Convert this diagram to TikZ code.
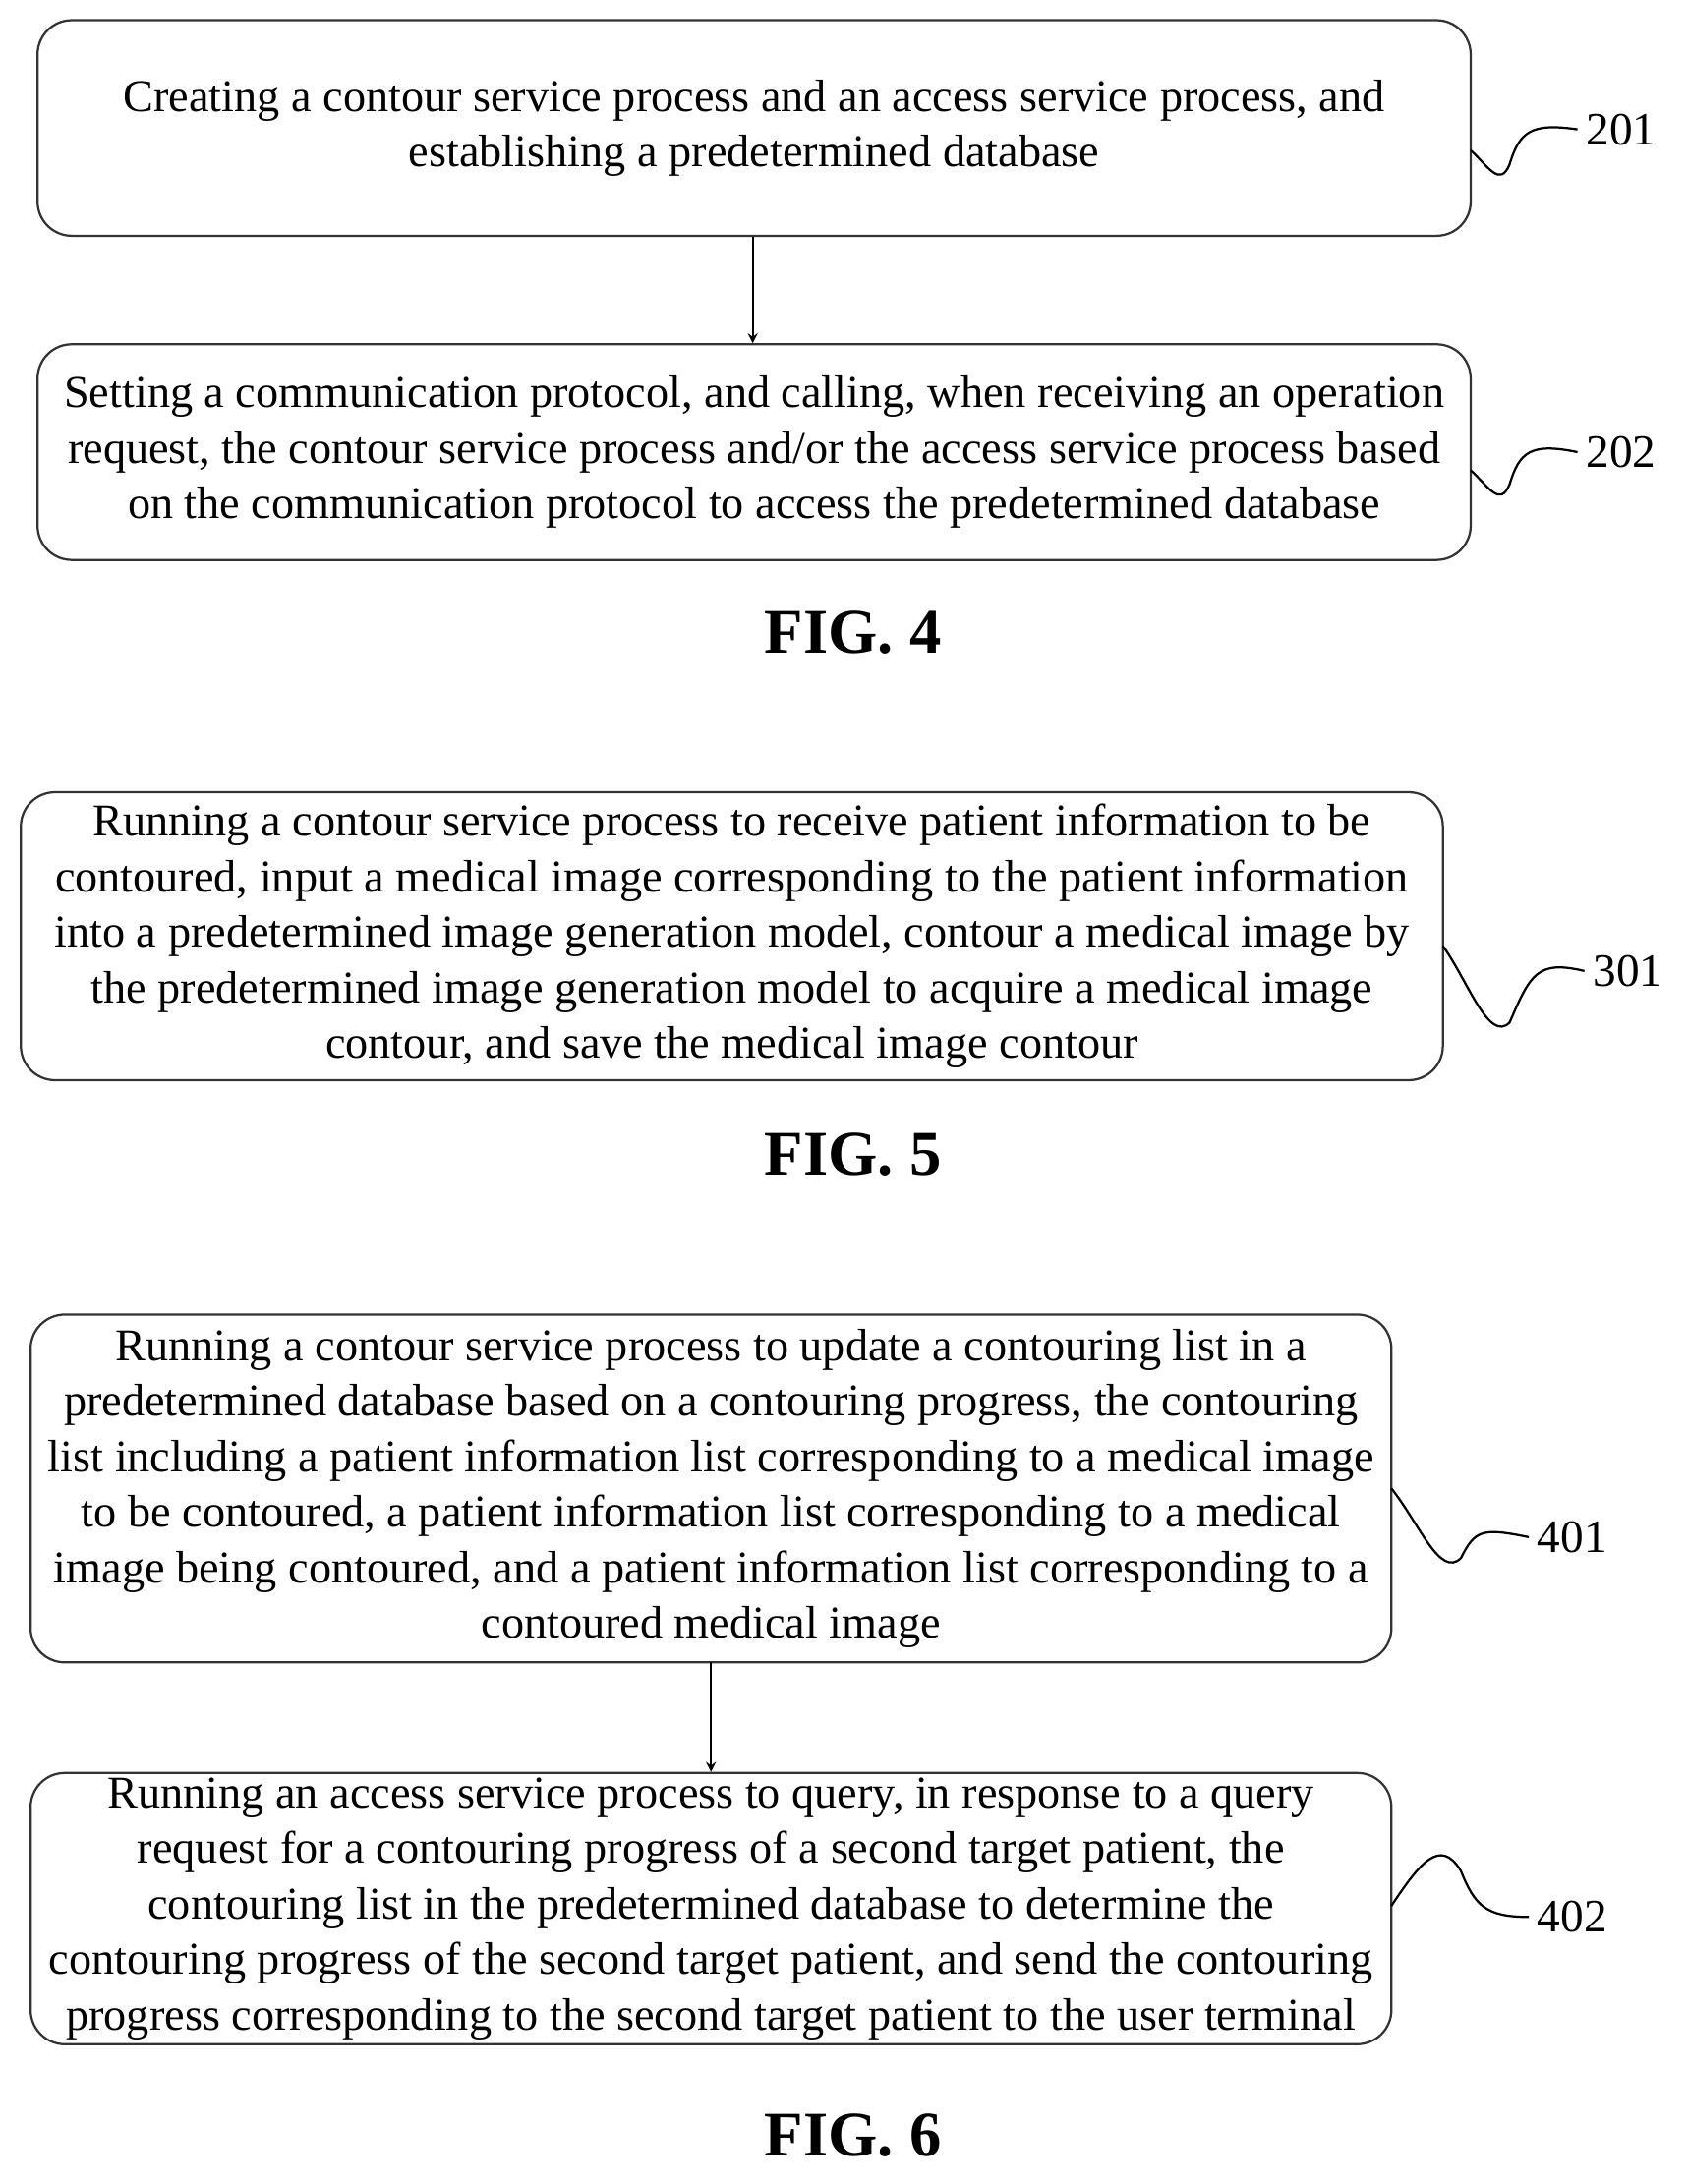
\documentclass[tikz,border=0pt]{standalone}
\usepackage{fontspec}
\setmainfont{Liberation Serif}
\begin{document}
\begin{tikzpicture}[x=0.02cm,y=-0.02cm,
  box/.style={draw=black!80,line width=0.9pt,rounded corners=14pt,inner sep=0pt,align=center,font=\fontsize{18.6}{22.7}\selectfont},
  lab/.style={font=\fontsize{19}{22}\selectfont},
  fig/.style={font=\fontsize{26}{30}\bfseries\selectfont},
  arr/.style={->,>=stealth,line width=0.8pt},
  sq/.style={line width=0.9pt}]
\useasboundingbox (0,0) rectangle (1213,1570);
\node[box,minimum width=1030*0.02cm,minimum height=155*0.02cm] (b201) at (542,92) {Creating a contour service process and an access service process, and\\establishing a predetermined database};
\node[box,minimum width=1030*0.02cm,minimum height=155*0.02cm] (b202) at (542,325) {Setting a communication protocol, and calling, when receiving an operation\\request, the contour service process and/or the access service process based\\on the communication protocol to access the predetermined database};
\draw[arr] (b201.south -| 541,0) -- (b202.north -| 541,0);
\node[fig] (f4) at (613,455) {FIG. 4};
\node[box,minimum width=1022*0.02cm,minimum height=207*0.02cm] (b301) at (526,673) {Running a contour service process to receive patient information to be\\contoured, input a medical image corresponding to the patient information\\into a predetermined image generation model, contour a medical image by\\the predetermined image generation model to acquire a medical image\\contour, and save the medical image contour};
\node[fig] (f5) at (613,830) {FIG. 5};
\node[box,minimum width=978*0.02cm,minimum height=250*0.02cm] (b401) at (511,1070) {Running a contour service process to update a contouring list in a\\predetermined database based on a contouring progress, the contouring\\list including a patient information list corresponding to a medical image\\to be contoured, a patient information list corresponding to a medical\\image being contoured, and a patient information list corresponding to a\\contoured medical image};
\node[box,minimum width=978*0.02cm,minimum height=195*0.02cm] (b402) at (511,1372) {Running an access service process to query, in response to a query\\request for a contouring progress of a second target patient, the\\contouring list in the predetermined database to determine the\\contouring progress of the second target patient, and send the contouring\\progress corresponding to the second target patient to the user terminal};
\draw[arr] (511,1195) -- (b402.north);
\node[fig] (f6) at (613,1535) {FIG. 6};
\node[lab] (l201) at (1165,93) {201};
\node[lab] (l202) at (1165,325) {202};
\node[lab] (l301) at (1170,698) {301};
\node[lab] (l401) at (1130,1105) {401};
\node[lab] (l402) at (1130,1378) {402};
\coordinate (s1) at (1057,108);
\draw[sq] (s1) .. controls (1070,120) and (1078,135) .. (1085,118) .. controls (1092,95) and (1100,88) .. (l201.west);
\coordinate (s2) at (1057,338);
\draw[sq] (s2) .. controls (1070,350) and (1078,365) .. (1085,348) .. controls (1092,325) and (1100,318) .. (l202.west);
\coordinate (s3) at (1037,680);
\draw[sq] (s3) .. controls (1055,705) and (1070,750) .. (1085,735) .. controls (1100,700) and (1105,690) .. (l301.west);
\coordinate (s4) at (1000,1070);
\draw[sq] (s4) .. controls (1020,1095) and (1035,1135) .. (1050,1120) .. controls (1060,1100) and (1065,1098) .. (l401.west);
\coordinate (s5) at (1000,1370);
\draw[sq] (s5) .. controls (1020,1340) and (1035,1320) .. (1050,1345) .. controls (1060,1370) and (1068,1378) .. (l402.west);
\end{tikzpicture}
\end{document}
